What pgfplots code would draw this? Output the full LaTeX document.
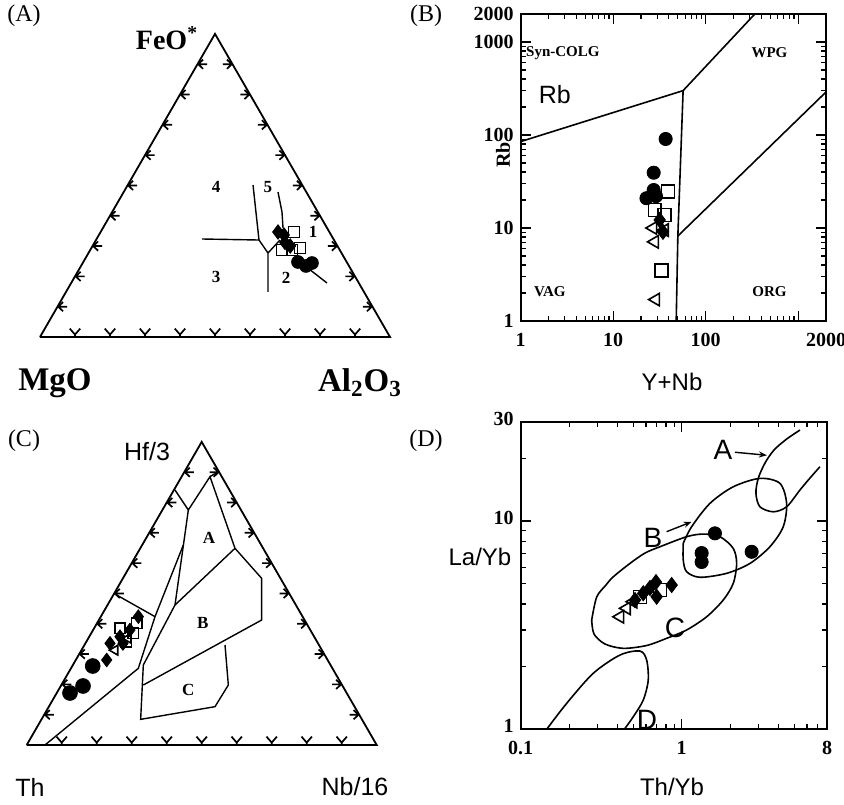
\documentclass[border=0pt]{standalone}
\usepackage{pgfplots}
\pgfplotsset{compat=1.18}
\usepackage{fontspec}
\setmainfont{Liberation Serif}
\newfontfamily\sansf{Liberation Sans}
\usetikzlibrary{arrows.meta}

\pgfdeclareplotmark{tkl}{%
  \pgfpathmoveto{\pgfqpoint{2.8pt}{2.3pt}}\pgfpathlineto{\pgfqpoint{0.3pt}{0pt}}\pgfpathlineto{\pgfqpoint{2.8pt}{-2.3pt}}%
  \pgfpathmoveto{\pgfqpoint{0pt}{0pt}}\pgfpathlineto{\pgfqpoint{4.8pt}{0pt}}\pgfusepathqstroke}
\pgfdeclareplotmark{tkr}{%
  \pgfpathmoveto{\pgfqpoint{-2.8pt}{2.3pt}}\pgfpathlineto{\pgfqpoint{-0.3pt}{0pt}}\pgfpathlineto{\pgfqpoint{-2.8pt}{-2.3pt}}%
  \pgfpathmoveto{\pgfqpoint{0pt}{0pt}}\pgfpathlineto{\pgfqpoint{-4.8pt}{0pt}}\pgfusepathqstroke}
\pgfdeclareplotmark{tkb}{%
  \pgfpathmoveto{\pgfqpoint{-2.6pt}{4.2pt}}\pgfpathlineto{\pgfqpoint{0pt}{1.2pt}}\pgfpathlineto{\pgfqpoint{2.6pt}{4.2pt}}%
  \pgfpathmoveto{\pgfqpoint{0pt}{0pt}}\pgfpathlineto{\pgfqpoint{0pt}{1.4pt}}\pgfusepathqstroke}

\pgfplotsset{
  mytern/.style={hide axis, scale only axis, width=175pt, height=151.55pt,
    xmin=0, xmax=100, ymin=0, ymax=86.6, clip=false, anchor=south west},
  tticks/.style={only marks, mark options={line width=0.85pt, black}},
  mybox/.style={scale only axis, anchor=south west,
    tick align=inside, axis line style={line width=0.9pt},
    major tick length=5pt, minor tick length=2.6pt,
    tick style={black, line width=0.6pt},
    tick label style={font=\bfseries\fontsize{10}{12}\selectfont},
    xticklabel style={yshift=-2.5pt},
    clip mode=individual},
  bnd/.style={black, line width=0.8pt, mark=none},
  fc/.style={only marks, mark=*, mark size=3.3pt, mark options={fill=black, draw=black}},
  os/.style={only marks, mark=square, mark size=3.2pt, mark options={fill=white, draw=black, line width=0.8pt}},
  ot/.style={only marks, mark=triangle, mark size=3.6pt, mark options={fill=white, draw=black, line width=0.8pt, rotate=90}},
  fd/.style={only marks, mark=diamond*, mark size=3.8pt, mark options={fill=black, draw=black}},
}

\begin{document}
\begin{tikzpicture}
\path[use as bounding box] (0pt,0pt) rectangle (422pt,402pt);

% ---------------- (A) ternary FeO* - MgO - Al2O3 ----------------
\begin{axis}[mytern, at={(20pt,233.5pt)}]
\addplot[black, line width=0.9pt, mark=none] coordinates {(0,0)(100,0)(50,86.6)(0,0)};
\addplot[tticks, mark=tkl] coordinates {(5,8.66)(10,17.32)(15,25.98)(20,34.64)(25,43.3)(30,51.96)(35,60.62)(40,69.28)(45,77.94)};
\addplot[tticks, mark=tkr] coordinates {(95,8.66)(90,17.32)(85,25.98)(80,34.64)(75,43.3)(70,51.96)(65,60.62)(60,69.28)(55,77.94)};
\addplot[tticks, mark=tkb] coordinates {(10,0)(20,0)(30,0)(40,0)(50,0)(60,0)(70,0)(80,0)(90,0)};
\addplot[bnd, line width=0.7pt] coordinates {(60.86,43.43)(62.57,27.71)(65.14,24.0)(65.14,12.86)};
\addplot[bnd, line width=0.7pt] coordinates {(46.29,28.0)(62.57,27.71)};
\addplot[bnd, line width=0.7pt] coordinates {(65.14,24.0)(68.57,27.71)};
\addplot[bnd, line width=0.7pt] coordinates {(68.0,41.43)(69.14,35.71)(69.43,31.14)};
\addplot[bnd, line width=0.7pt] coordinates {(74.29,21.43)(82.0,15.43)};
\addplot[os, mark size=2.8pt] coordinates {(72.57,30.0)(69.14,24.86)(72.0,24.86)(74.29,25.43)};
\addplot[fd, mark size=3.6pt] coordinates {(68.0,30.0)(69.71,29.14)(70.0,27.0)(71.5,26.0)};
\addplot[fc, mark size=3.2pt] coordinates {(73.71,21.43)(76.0,20.29)(77.71,21.14)};
\node[font=\bfseries\fontsize{8.5}{9}\selectfont] at (axis cs:78,30) {1};
\node[font=\bfseries\fontsize{8.5}{9}\selectfont] at (axis cs:70.3,16.9) {2};
\node[font=\bfseries\fontsize{8.5}{9}\selectfont] at (axis cs:50.3,17.1) {3};
\node[font=\bfseries\fontsize{8.5}{9}\selectfont] at (axis cs:50.3,42.9) {4};
\node[font=\bfseries\fontsize{8.5}{9}\selectfont] at (axis cs:65.1,42.9) {5};
\end{axis}

% ---------------- (B) Rb vs Y+Nb ----------------
\begin{axis}[xmode=log, ymode=log, mybox, at={(260.35pt,241.5pt)}, width=152.65pt, height=153.5pt,
  xmin=1, xmax=2000, ymin=1, ymax=2000,
  xtick={1,10,100,1000,2000}, xticklabels={1,10,100,,2000},
  ytick={1,10,100,1000,2000}, yticklabels={1,10,100,1000,2000},
  minor xtick={2,3,4,5,6,7,8,9,20,30,40,50,60,70,80,90,200,300,400,500,600,700,800,900},
  minor ytick={2,3,4,5,6,7,8,9,20,30,40,50,60,70,80,90,200,300,400,500,600,700,800,900},
  xlabel={Y+Nb}, xlabel style={font=\sansf\fontsize{12}{14}\selectfont, at={(axis description cs:0.4956,-0.199)}, anchor=center},
  ylabel={Rb}, ylabel style={font=\bfseries\fontsize{10}{12}\selectfont, at={(axis description cs:-0.058,0.541)}, anchor=center},
]
\addplot[bnd] coordinates {(1,85)(57,300)};
\addplot[bnd] coordinates {(57,300)(340,2000)};
\addplot[bnd] coordinates {(57,300)(50,8.2)(48,1)};
\addplot[bnd] coordinates {(50,8.2)(2000,290)};
\addplot[os] coordinates {(39.1,24.6)(28.1,15.6)(36,13.8)(33.2,3.5)};
\addplot[ot] coordinates {(28.1,7.1)(28.9,1.7)(27,10)(36,9.5)};
\addplot[fd] coordinates {(31.8,12.2)(34.5,9.1)};
\addplot[fc] coordinates {(36.9,90.6)(27.4,39.3)(27.4,25.6)(22.9,20.9)(29,22)};
\node[font=\bfseries\fontsize{7.5}{8}\selectfont] at (axis cs:2.86,762) {Syn-COLG};
\node[font=\bfseries\fontsize{7.5}{8}\selectfont] at (axis cs:489,762) {WPG};
\node[font=\bfseries\fontsize{7.5}{8}\selectfont] at (axis cs:2.07,2.05) {VAG};
\node[font=\bfseries\fontsize{7.5}{8}\selectfont] at (axis cs:489,2.05) {ORG};
\node[font=\sansf\fontsize{12.5}{14}\selectfont] at (axis cs:2.34,269) {Rb};
\end{axis}

% ---------------- (C) ternary Hf/3 - Th - Nb/16 ----------------
\begin{axis}[mytern, at={(13.35pt,29.5pt)}]
\addplot[black, line width=0.9pt, mark=none] coordinates {(0,0)(100,0)(50,86.6)(0,0)};
\addplot[tticks, mark=tkl] coordinates {(5,8.66)(10,17.32)(15,25.98)(20,34.64)(25,43.3)(30,51.96)(35,60.62)(40,69.28)(45,77.94)};
\addplot[tticks, mark=tkr] coordinates {(95,8.66)(90,17.32)(85,25.98)(80,34.64)(75,43.3)(70,51.96)(65,60.62)(60,69.28)(55,77.94)};
\addplot[tticks, mark=tkb] coordinates {(10,0)(20,0)(30,0)(40,0)(50,0)(60,0)(70,0)(80,0)(90,0)};
\addplot[bnd, line width=0.7pt] coordinates {(42.37,72.86)(46.18,67.14)(52.37,76.67)(59.51,56.19)(67.13,47.62)(67.13,35.71)(33.32,17.14)};
\addplot[bnd, line width=0.7pt] coordinates {(52.37,76.67)(54.75,78.1)};
\addplot[bnd, line width=0.7pt] coordinates {(46.18,67.14)(42.37,40.0)};
\addplot[bnd, line width=0.7pt] coordinates {(59.51,56.19)(42.37,40.0)};
\addplot[bnd, line width=0.7pt] coordinates {(42.37,40.0)(33.32,22.86)(32.56,7.33)(53.8,10.95)(57.61,17.14)(56.66,28.57)};
\addplot[bnd, line width=0.7pt] coordinates {(44.75,57.14)(36.66,36.67)(31.89,21.9)(5.23,0)};
\addplot[bnd, line width=0.7pt] coordinates {(25.7,42.86)(36.66,36.67)};
\addplot[os, mark size=2.6pt] coordinates {(26.66,33.33)(30.47,31.9)(31.4,34.76)(28.5,29.5)};
\addplot[ot, mark size=2.8pt] coordinates {(25.2,27.1)(29.0,30.5)};
\addplot[fd, mark size=3.4pt] coordinates {(22.86,24.29)(23.8,29.05)(26.66,30.95)(29.5,32.86)(31.9,36.67)(27.5,29.0)};
\addplot[fc, mark size=3.7pt] coordinates {(12.37,14.86)(16.09,16.86)(18.86,22.57)};
\node[font=\bfseries\fontsize{8.5}{9}\selectfont] at (axis cs:52.09,59.06) {A};
\node[font=\bfseries\fontsize{8.5}{9}\selectfont] at (axis cs:50.29,34.94) {B};
\node[font=\bfseries\fontsize{8.5}{9}\selectfont] at (axis cs:46.17,15.71) {C};
\end{axis}

% ---------------- (D) La/Yb vs Th/Yb ----------------
\begin{axis}[xmode=log, ymode=log, mybox, at={(260.35pt,37.35pt)}, width=153.15pt, height=153.8pt,
  xmin=0.1, xmax=8, ymin=1, ymax=30,
  xtick={0.1,1,8}, xticklabels={0.1,1,8},
  ytick={1,10,30}, yticklabels={1,10,30},
  minor xtick={0.2,0.3,0.4,0.5,0.6,0.7,0.8,0.9,2,3,4,5,6,7},
  minor ytick={2,3,4,5,6,7,8,9,20},
  yticklabel style={yshift=1.5pt},
  xlabel={Th/Yb}, xlabel style={font=\sansf\fontsize{12}{14}\selectfont, at={(axis description cs:0.494,-0.188)}, anchor=center},
  ylabel={La/Yb}, ylabel style={font=\sansf\fontsize{12}{14}\selectfont, rotate=-90, at={(axis description cs:-0.133,0.56)}, anchor=center},
]
\addplot[bnd, smooth] coordinates {(5.43,27.35)(4.49,24.76)(3.745,21.92)(3.292,18.98)(2.991,16.03)(2.894,13.58)(3.064,11.71)(3.707,11.08)(4.49,11.71)(5.43,14.09)(6.265,16.08)(7.23,18.23)};
\addplot[bnd, smooth] coordinates {(1.023,7.82)(1.153,9.39)(1.499,12.16)(2.092,14.61)(3.064,16.03)(4.08,15.17)(4.49,12.16)(4.276,9.39)(3.535,7.53)(2.656,6.26)(1.904,5.61)(1.299,5.37)(1.074,5.71)(1.023,6.50)(1.023,7.82)};
\addplot[bnd, smooth] coordinates {(0.2761,3.348)(0.2965,4.316)(0.3387,4.93)(0.376,5.40)(0.4773,6.26)(0.5916,7.02)(0.7333,7.53)(1.074,8.41)(1.362,8.66)(1.73,8.41)(2.092,7.39)(2.196,6.26)(2.092,5.02)(1.813,4.176)(1.43,3.47)(1.074,3.0)(0.807,2.735)(0.606,2.526)(0.4338,2.448)(0.3339,2.568)(0.2853,2.868)(0.2761,3.348)};
\addplot[bnd, smooth] coordinates {(0.145,1.0)(0.1931,1.333)(0.2824,1.858)(0.414,2.274)(0.5508,2.376)(0.606,2.151)(0.62,1.724)(0.5774,1.382)(0.5005,1.149)(0.44,1.0)};
\addplot[os] coordinates {(0.7333,4.665)(0.5508,4.316)};
\addplot[ot] coordinates {(0.414,3.47)(0.4553,3.81)(0.5005,4.10)};
\addplot[fd] coordinates {(0.8667,4.93)(0.6355,4.77)(0.6993,4.33)(0.5774,4.50)(0.5129,4.176)(0.6925,5.09)};
\addplot[fc] coordinates {(1.61,8.73)(2.722,7.12)(1.331,7.02)(1.331,6.36)};
\addplot[black, line width=0.7pt, mark=none, -{Stealth[length=4pt,width=3pt]}] coordinates {(2.143,21.4)(3.388,20.7)};
\addplot[black, line width=0.7pt, mark=none, -{Stealth[length=4pt,width=3pt]}] coordinates {(0.807,8.89)(1.153,9.92)};
\node[font=\sansf\fontsize{14}{14}\selectfont] at (axis cs:1.806,21.9) {A};
\node[font=\sansf\fontsize{14}{14}\selectfont] at (axis cs:0.663,8.29) {B};
\node[font=\sansf\fontsize{14}{14}\selectfont] at (axis cs:0.908,3.06) {C};
\node[font=\sansf\fontsize{14}{14}\selectfont] at (axis cs:0.609,1.108) {D};
\end{axis}

\node[font=\fontsize{12}{12}\selectfont] at (12pt,394pt) {(A)};
\node[font=\fontsize{12}{12}\selectfont] at (213pt,394pt) {(B)};
\node[font=\fontsize{12}{12}\selectfont] at (12pt,181.5pt) {(C)};
\node[font=\fontsize{12}{12}\selectfont] at (213pt,181.5pt) {(D)};
\node[font=\bfseries\fontsize{14}{14}\selectfont] at (83.5pt,383pt) {FeO\textsuperscript{*}};
\node[font=\bfseries\fontsize{16.5}{16.5}\selectfont] at (27.5pt,210.5pt) {MgO};
\node[font=\bfseries\fontsize{16.5}{16.5}\selectfont] at (180pt,210.5pt) {Al\textsubscript{2}O\textsubscript{3}};
\node[font=\sansf\fontsize{12.5}{14}\selectfont] at (73.5pt,176pt) {Hf/3};
\node[font=\sansf\fontsize{12.5}{14}\selectfont] at (15pt,8.5pt) {Th};
\node[font=\sansf\fontsize{12.5}{14}\selectfont] at (177.5pt,8.5pt) {Nb/16};
\end{tikzpicture}
\end{document}
